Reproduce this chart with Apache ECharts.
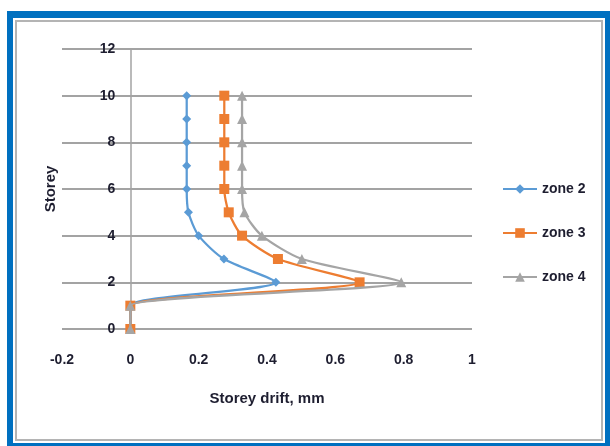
<!DOCTYPE html>
<html>
<head>
<meta charset="utf-8">
<script src="https://cdn.jsdelivr.net/npm/echarts@6/dist/echarts.min.js"></script>
<style>
  html, body { margin: 0; padding: 0; background: #fff; }
  body { width: 610px; height: 446px; position: relative; overflow: hidden; }
  #frame { position: absolute; left: 7px; top: 11px; width: 603px; height: 435px; background: #0070c0; }
  #panel { position: absolute; left: 13px; top: 18px; width: 592px; height: 425px; background: #fff; }
  #inner { position: absolute; left: 15px; top: 20px; width: 584px; height: 417px; border: 2px solid #b4b4b4; background: #fff; }
  #chart { position: absolute; left: 0; top: 0; width: 610px; height: 446px; }
</style>
</head>
<body>
<div id="frame"></div>
<div id="panel"></div>
<div id="inner"></div>
<div id="chart"></div>
<script>
// Storey levels and drift per zone (mm)
const storeys = [0, 1, 2, 3, 4, 5, 6, 7, 8, 9, 10];
const zone2 = [0, 0, 0.426, 0.274, 0.200, 0.170, 0.165, 0.165, 0.165, 0.165, 0.165];
const zone3 = [0, 0, 0.671, 0.432, 0.327, 0.288, 0.275, 0.275, 0.275, 0.275, 0.275];
const zone4 = [0, 0, 0.793, 0.502, 0.385, 0.334, 0.327, 0.327, 0.327, 0.327, 0.327];
const seriesNames = ['zone 2', 'zone 3', 'zone 4'];
const xTicks = [-0.2, 0, 0.2, 0.4, 0.6, 0.8, 1];
const yTicks = [0, 2, 4, 6, 8, 10, 12];

const FONT = '"Liberation Sans", Arial, sans-serif';
const TEXT = '#1e1e30';
const GRID = '#a3a3a3';

const GRID_LEFT = 62, GRID_RIGHT = 138, CANVAS_W = 610;
// pixel distance from the left edge of the plot to x = 0, where the vertical axis sits
const plotW = CANVAS_W - GRID_LEFT - GRID_RIGHT;
const zeroOffset = plotW * (0 - xTicks[0]) / (xTicks[xTicks.length - 1] - xTicks[0]);

function pairs(values) {
  return values.map((v, i) => [v, storeys[i]]);
}

const styles = [
  { color: '#5b9bd5', symbol: 'diamond', size: 9 },
  { color: '#ed7d31', symbol: 'rect', size: 10 },
  { color: '#a5a5a5', symbol: 'triangle', size: 10 }
];
const values = [zone2, zone3, zone4];

const chart = echarts.init(document.getElementById('chart'), null, { renderer: 'canvas' });
chart.setOption({
  backgroundColor: 'transparent',
  animation: false,
  textStyle: { fontFamily: FONT, color: TEXT, fontWeight: 'bold' },
  grid: { left: GRID_LEFT, right: GRID_RIGHT, top: 49, bottom: 117, containLabel: false, outerBoundsMode: 'none' },
  legend: {
    orient: 'vertical',
    left: 497,
    top: 177,
    itemWidth: 34,
    itemHeight: 12,
    itemGap: 30,
    data: seriesNames,
    textStyle: { fontFamily: FONT, fontSize: 14, fontWeight: 'bold', color: TEXT }
  },
  xAxis: {
    type: 'value',
    min: xTicks[0],
    max: xTicks[xTicks.length - 1],
    interval: 0.2,
    name: 'Storey drift, mm',
    nameLocation: 'middle',
    nameGap: 62,
    nameTextStyle: { fontFamily: FONT, fontSize: 15, fontWeight: 'bold', color: TEXT },
    axisLine: { show: false },
    axisTick: { show: false },
    splitLine: { show: false },
    axisLabel: {
      margin: 24,
      fontFamily: FONT, fontSize: 14, fontWeight: 'bold', color: TEXT,
      formatter: v => String(Math.round(v * 10) / 10)
    }
  },
  yAxis: {
    type: 'value',
    min: yTicks[0],
    max: yTicks[yTicks.length - 1],
    interval: 2,
    offset: -zeroOffset,
    name: 'Storey',
    nameLocation: 'middle',
    nameGap: 72,
    nameRotate: 90,
    nameTextStyle: { fontFamily: FONT, fontSize: 15, fontWeight: 'bold', color: TEXT },
    axisLine: { show: true, onZero: false, lineStyle: { color: GRID, width: 1.5 } },
    axisTick: { show: false },
    splitLine: { show: true, lineStyle: { color: GRID, width: 2 } },
    axisLabel: { margin: 15, fontFamily: FONT, fontSize: 14, fontWeight: 'bold', color: TEXT }
  },
  series: seriesNames.map((name, k) => ({
    name: name,
    type: 'line',
    data: pairs(values[k]),
    smooth: 0.25,
    symbol: styles[k].symbol,
    symbolSize: styles[k].size,
    showAllSymbol: true,
    itemStyle: { color: styles[k].color },
    lineStyle: { color: styles[k].color, width: 2.25 },
    z: 2 + k
  }))
});
</script>
</body>
</html>
